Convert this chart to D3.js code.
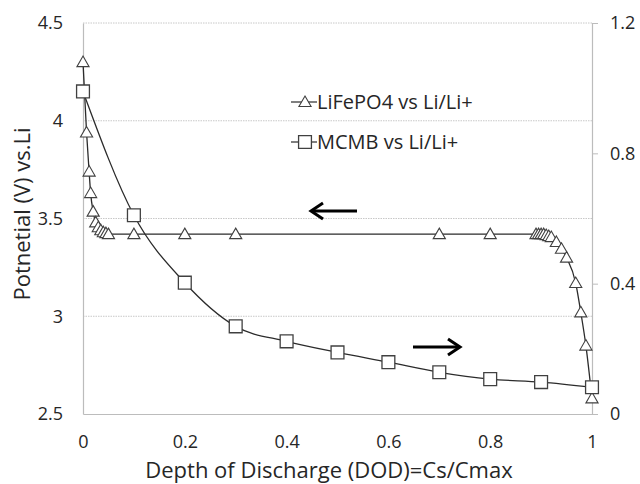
<!DOCTYPE html>
<html><head><meta charset="utf-8">
<script src="https://cdn.jsdelivr.net/npm/d3@7/dist/d3.min.js"></script>
<style>body{margin:0;background:#fff}svg{display:block}text{font-family:"Open Sans",Lato,sans-serif;fill:#262626}</style>
</head><body><svg id="c" width="640" height="484"></svg>
<script>
const lfpX = [0, 0.007, 0.012, 0.015, 0.02, 0.025, 0.03, 0.035, 0.04, 0.045, 0.05, 0.1, 0.2, 0.3, 0.7, 0.8, 0.89, 0.895, 0.9, 0.905, 0.91, 0.915, 0.92, 0.93, 0.94, 0.95, 0.968, 0.978, 0.988, 1.0];
const lfpV = [4.3, 3.94, 3.74, 3.63, 3.535, 3.48, 3.455, 3.44, 3.43, 3.425, 3.42, 3.42, 3.42, 3.42, 3.42, 3.42, 3.42, 3.42, 3.42, 3.42, 3.415, 3.41, 3.405, 3.38, 3.345, 3.30, 3.17, 3.02, 2.85, 2.58];
const mcmbX = [0, 0.1, 0.2, 0.3, 0.4, 0.5, 0.6, 0.7, 0.8, 0.9, 1.0];
const mcmbV = [0.99, 0.61, 0.403, 0.269, 0.223, 0.189, 0.159, 0.128, 0.107, 0.098, 0.082];
const xTicks = [0, 0.2, 0.4, 0.6, 0.8, 1];
const yLeftTicks = [2.5, 3, 3.5, 4, 4.5];
const yRightTicks = [0, 0.4, 0.8, 1.2];
const seriesNames = ["LiFePO4 vs Li/Li+", "MCMB vs Li/Li+"];

const svg = d3.select("#c");
const L = 83, R = 592, T = 23, B = 414;
const x = d3.scaleLinear().domain([0, 1]).range([L, R]);
const yL = d3.scaleLinear().domain([2.5, 4.5]).range([B, T]);
const yR = d3.scaleLinear().domain([0, 1.2]).range([B, T]);

// gridlines
svg.append("g").selectAll("line").data(yLeftTicks.filter(d => d > 2.5)).join("line")
  .attr("x1", L).attr("x2", R).attr("y1", d => yL(d)).attr("y2", d => yL(d))
  .attr("stroke", "#c8c8c8").attr("stroke-width", 1).attr("stroke-dasharray", "1.5,1");

// axes
const axisColor = "#bcbcbc";
const gL = svg.append("g").attr("transform", `translate(${L},0)`)
  .call(d3.axisLeft(yL).tickValues(yLeftTicks).tickSize(0).tickPadding(20).tickFormat(d3.format("")));
const gR = svg.append("g").attr("transform", `translate(${R},0)`)
  .call(d3.axisRight(yR).tickValues(yRightTicks).tickSize(6).tickPadding(12).tickFormat(d3.format("")));
const gB = svg.append("g").attr("transform", `translate(0,${B})`)
  .call(d3.axisBottom(x).tickValues(xTicks).tickSize(0).tickPadding(21).tickFormat(d3.format("")));
[gL, gR, gB].forEach(g => {
  g.select(".domain").attr("stroke", axisColor).attr("stroke-width", 1.2);
  g.selectAll(".tick line").attr("stroke", axisColor);
  g.selectAll("text").attr("font-size", 18).attr("fill", "#262626").style("font-family", '"Open Sans",sans-serif');
});

// titles
svg.append("text").attr("x", 329).attr("y", 478).attr("text-anchor", "middle")
  .attr("font-size", 22).text("Depth of Discharge (DOD)=Cs/Cmax");
svg.append("text").attr("transform", `translate(30,214) rotate(-90)`).attr("text-anchor", "middle")
  .attr("font-size", 22).text("Potnetial (V) vs.Li");

const lineColor = "#2b2b2b", markColor = "#404040";
const lfp = lfpX.map((d, i) => [d, lfpV[i]]);
const mc = mcmbX.map((d, i) => [d, mcmbV[i]]);
svg.append("path").datum(mc).attr("fill", "none").attr("stroke", lineColor).attr("stroke-width", 1.3)
  .attr("d", d3.line().x(d => x(d[0])).y(d => yR(d[1])).curve(d3.curveMonotoneX));
svg.append("path").datum(lfp).attr("fill", "none").attr("stroke", lineColor).attr("stroke-width", 1.3)
  .attr("d", d3.line().x(d => x(d[0])).y(d => yL(d[1])).curve(d3.curveMonotoneX));

const tri = d3.symbol().type(d3.symbolTriangle).size(64);
const sq = d3.symbol().type(d3.symbolSquare).size(165);
svg.append("g").selectAll("path").data(lfp).join("path")
  .attr("transform", d => `translate(${x(d[0])},${yL(d[1]) + 1})`).attr("d", tri)
  .attr("fill", "#fff").attr("stroke", markColor).attr("stroke-width", 1.1);
svg.append("g").selectAll("path").data(mc).join("path")
  .attr("transform", d => `translate(${x(d[0])},${yR(d[1])})`).attr("d", sq)
  .attr("fill", "#fff").attr("stroke", markColor).attr("stroke-width", 1.3);

// legend
const lg = svg.append("g");
const legY = [102, 142];
seriesNames.forEach((name, i) => {
  const y = legY[i];
  lg.append("line").attr("x1", 291).attr("x2", 317).attr("y1", y).attr("y2", y).attr("stroke", lineColor).attr("stroke-width", 1.2);
  lg.append("path").attr("transform", `translate(305,${y + (i === 0 ? 1 : 0)})`).attr("d", i === 0 ? tri() : sq())
    .attr("fill", "#fff").attr("stroke", markColor).attr("stroke-width", i === 0 ? 1.1 : 1.3);
  lg.append("text").attr("x", 317).attr("y", y).attr("dy", "0.35em").attr("font-size", 20).text(name);
});

// arrows
function arrow(x1, x2, y) {
  const dir = Math.sign(x2 - x1);
  svg.append("line").attr("x1", x1).attr("x2", x2 - dir * 1).attr("y1", y).attr("y2", y).attr("stroke", "#000").attr("stroke-width", 3);
  svg.append("path").attr("d", `M${x2 - dir * 12},${y - 8}L${x2},${y}L${x2 - dir * 12},${y + 8}`)
    .attr("fill", "none").attr("stroke", "#000").attr("stroke-width", 3);
}
arrow(357, 311, 211);
arrow(413, 460, 347);
</script></body></html>
